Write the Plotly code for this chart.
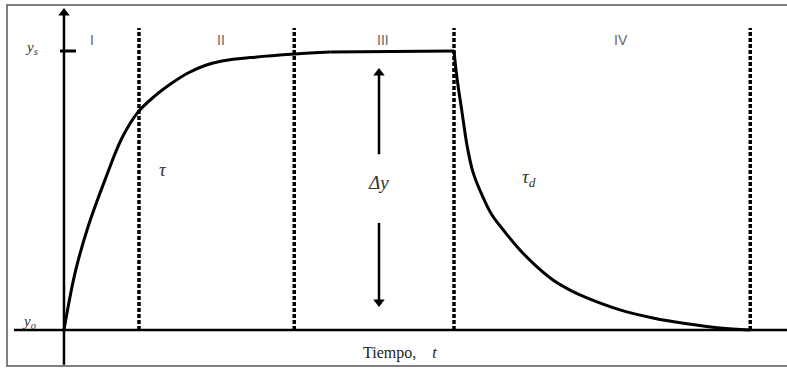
import plotly.graph_objects as go

# step response (t in units of tau, y normalised: yo=0, ys=1)
t_rise = [0.0, 0.147, 0.32, 0.547, 0.773, 0.987, 1.213, 1.44, 1.653, 1.88, 2.107, 2.547, 3.08, 3.55]
y_rise = [0.0, 0.204, 0.369, 0.538, 0.688, 0.781, 0.839, 0.885, 0.921, 0.948, 0.964, 0.978, 0.989, 0.996]
t_flat = [3.55, 5.2]
y_flat = [0.996, 1.0]
t_fall = [5.2, 5.24, 5.307, 5.373, 5.453, 5.573, 5.707, 5.88, 6.08, 6.307, 6.52, 6.747, 6.973, 7.413, 7.853, 8.307, 8.747, 9.147]
y_fall = [1.0, 0.903, 0.781, 0.663, 0.566, 0.484, 0.412, 0.351, 0.287, 0.226, 0.179, 0.143, 0.115, 0.072, 0.043, 0.022, 0.007, 0.0]

boundaries = [1.0, 3.07, 5.2, 9.15]
regions = ['I', 'II', 'III', 'IV']
region_x = [0.37, 2.09, 4.25, 7.43]

# arrows: (x, tail y, head y, up?)
arrows = [(0.0, -0.125, 1.136, True), (4.2, 0.63, 0.921, True), (4.2, 0.384, 0.100, False)]

W, H = 787, 370
x_range = [-0.853, 9.64]
y_range = [-0.1434, 1.1828]

fig = go.Figure()

# region boundaries
for b in boundaries:
    fig.add_trace(go.Scatter(x=[b, b], y=[0, 1.082], mode='lines',
                             line=dict(color='black', width=3.5, dash='4px,2px'),
                             hoverinfo='skip', showlegend=False))

# response curve
fig.add_trace(go.Scatter(x=t_rise, y=y_rise, mode='lines',
                         line=dict(color='black', width=3, shape='spline', smoothing=1),
                         hoverinfo='skip', showlegend=False))
fig.add_trace(go.Scatter(x=t_flat, y=y_flat, mode='lines',
                         line=dict(color='black', width=3),
                         hoverinfo='skip', showlegend=False))
fig.add_trace(go.Scatter(x=t_fall, y=y_fall, mode='lines',
                         line=dict(color='black', width=3, shape='spline', smoothing=1),
                         hoverinfo='skip', showlegend=False))

# time axis and ys tick
fig.add_trace(go.Scatter(x=[-0.667, 9.64], y=[0, 0], mode='lines',
                         line=dict(color='black', width=2.5), hoverinfo='skip', showlegend=False))
fig.add_trace(go.Scatter(x=[-0.053, 0.16], y=[1.0, 1.0], mode='lines',
                         line=dict(color='black', width=3), hoverinfo='skip', showlegend=False))

# y axis and delta-y arrows
for ax_x, y0, y1, up in arrows:
    fig.add_trace(go.Scatter(x=[ax_x, ax_x], y=[y0, y1], mode='lines',
                             line=dict(color='black', width=2.5), hoverinfo='skip', showlegend=False))
    fig.add_trace(go.Scatter(x=[ax_x], y=[y1], mode='markers',
                             marker=dict(symbol='triangle-up' if up else 'triangle-down',
                                         size=10, color='black'),
                             hoverinfo='skip', showlegend=False))

ann = []
for name, rx in zip(regions, region_x):
    ann.append(dict(x=rx, y=1.04, text=name, showarrow=False,
                    font=dict(family='Liberation Sans', size=14, color='#666')))

serif = 'Liberation Serif'
ann += [
    dict(x=1.32, y=0.577, text='<i>τ</i>', showarrow=False, font=dict(family=serif, size=19, color='#333')),
    dict(x=4.2, y=0.527, text='<i>Δy</i>', showarrow=False, font=dict(family=serif, size=19, color='#333')),
    dict(x=6.2, y=0.545, text='<i>τ<sub>d</sub></i>', showarrow=False, font=dict(family=serif, size=19, color='#333')),
    dict(x=-0.43, y=1.01, text='<i>y<sub>s</sub></i>', showarrow=False, font=dict(family=serif, size=15, color='#333')),
    dict(x=-0.46, y=0.03, text='<i>y<sub>o</sub></i>', showarrow=False, font=dict(family=serif, size=15, color='#333')),
    dict(x=4.48, y=-0.083, text='Tiempo,&nbsp;&nbsp;&nbsp;&nbsp;<i>t</i>', showarrow=False,
         font=dict(family=serif, size=16, color='#222')),
]

fig.update_layout(
    width=W, height=H,
    margin=dict(l=0, r=0, t=0, b=0),
    plot_bgcolor='white', paper_bgcolor='white',
    xaxis=dict(range=x_range, visible=False, fixedrange=True),
    yaxis=dict(range=y_range, visible=False, fixedrange=True),
    annotations=ann,
    shapes=[dict(type='rect', xref='paper', yref='paper', x0=7 / W, x1=1.05,
                 y0=1 - 366 / H, y1=1 - 5 / H, line=dict(color='#555', width=1.5))],
)

fig.write_html("out.html", config={'displayModeBar': False},
               post_script="document.body.style.margin='0';")
